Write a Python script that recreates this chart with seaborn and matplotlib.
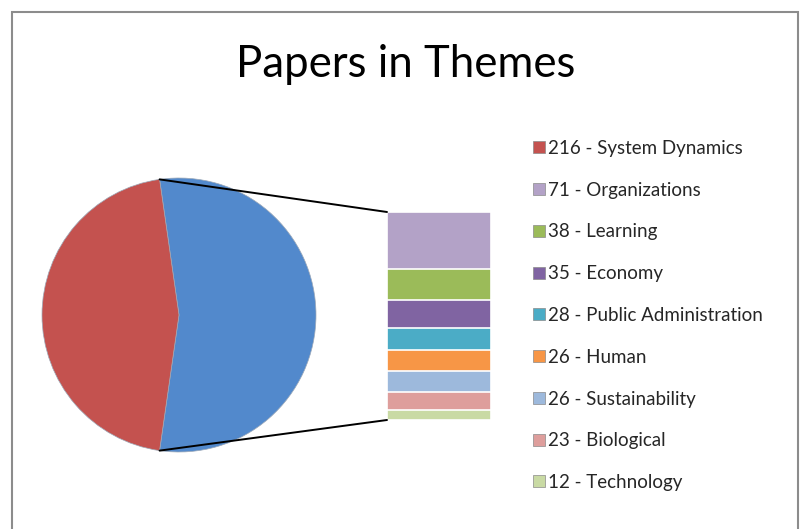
import numpy as np
import pandas as pd
import matplotlib.pyplot as plt
import seaborn as sns
from matplotlib.patches import Patch, Rectangle, ConnectionPatch

# data
themes = ["System Dynamics", "Organizations", "Learning", "Economy",
          "Public Administration", "Human", "Sustainability", "Biological", "Technology"]
papers = [216, 71, 38, 35, 28, 26, 26, 23, 12]
theme_colors = ["#C4524F", "#B3A2C7", "#9BBB59", "#8064A2", "#4BACC6",
                "#F79646", "#9DB9DC", "#DE9E9C", "#C9DAA4"]
other_color = "#5289CC"

sns.set_theme(style="white")
plt.rcParams['font.family'] = ['Lato', 'DejaVu Sans']

W, H = 801, 529
fig = plt.figure(figsize=(W / 100, H / 100), dpi=100, facecolor="white")

# pie: main theme vs. the rest
main_val = papers[0]
rest_val = sum(papers[1:])
total = main_val + rest_val
half_rest = rest_val / total * 360 / 2

ax_pie = fig.add_axes([42 / W, 1 - 452 / H, 274 / W, 274 / H])
wedges, _ = ax_pie.pie([rest_val, main_val], colors=[other_color, theme_colors[0]],
                       startangle=-half_rest, counterclock=True, radius=1,
                       wedgeprops=dict(edgecolor="#9DA9B8", linewidth=0.5))
ax_pie.set_xlim(-1, 1)
ax_pie.set_ylim(-1, 1)
ax_pie.axis("off")

# stacked bar of the rest (cumulative bars drawn tallest first)
ax_bar = fig.add_axes([387 / W, 1 - 420 / H, 104 / W, 208 / H])
rest_names = themes[1:]
rest_vals = papers[1:]
cum = np.cumsum(rest_vals[::-1])[::-1]  # Organizations on top
df = pd.DataFrame({"grp": ["other"] * len(rest_names), "cum": cum, "name": rest_names})
for i, row in df.iterrows():
    sns.barplot(x=[row["grp"]], y=[row["cum"]], color=theme_colors[i + 1], ax=ax_bar,
                width=1.0, edgecolor="white", linewidth=1.2, saturation=1)
ax_bar.set_xlim(-0.5, 0.5)
ax_bar.set_ylim(0, rest_val)
ax_bar.axis("off")

# connector lines
w_rest = wedges[0]
for ang, yb in [(w_rest.theta2, rest_val), (w_rest.theta1, 0)]:
    xa, ya = np.cos(np.radians(ang)), np.sin(np.radians(ang))
    con = ConnectionPatch(xyA=(xa, ya), coordsA=ax_pie.transData,
                          xyB=(-0.5, yb), coordsB=ax_bar.transData,
                          color="black", linewidth=1.4)
    fig.add_artist(con)

# title
fig.text(406 / W, 1 - 77 / H, "Papers in Themes", ha="center", va="baseline",
         fontsize=31.5, color="black")

# legend
handles = [Patch(facecolor=c, edgecolor="#8A8A8A", linewidth=0.5) for c in theme_colors]
labels = [f"{v} - {n}" for v, n in zip(papers, themes)]
fig.legend(handles, labels, loc="upper left", bbox_to_anchor=(533 / W, 1 - 140 / H),
           frameon=False, fontsize=13.5, handlelength=0.62, handleheight=0.62,
           handletextpad=0.2, labelspacing=1.32, borderpad=0, borderaxespad=0)

# chart border
fig.add_artist(Rectangle((12 / W, -0.02), (798 - 12) / W, 1 - 12 / H + 0.02,
                         transform=fig.transFigure, fill=False,
                         edgecolor="#8C8C8C", linewidth=1.5))

fig.savefig("out.png", dpi=100, facecolor="white")
